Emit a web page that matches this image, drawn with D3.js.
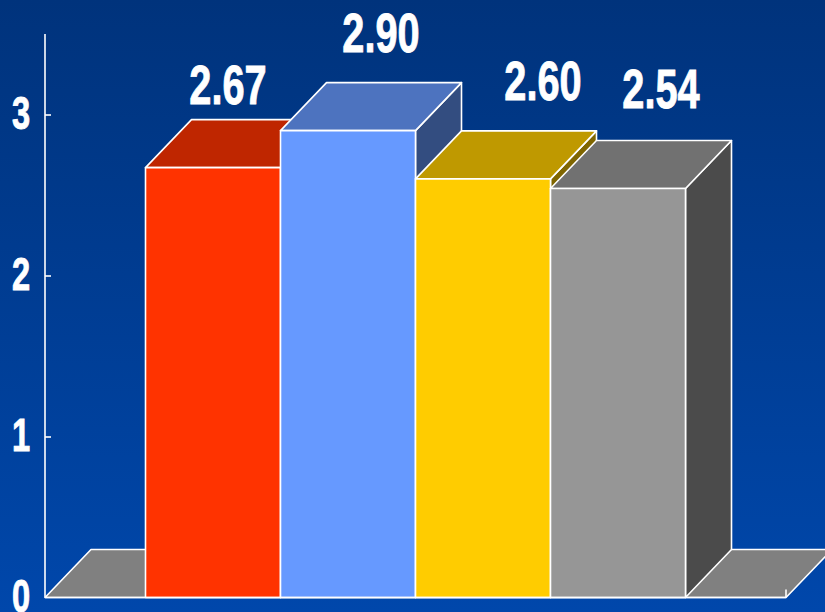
<!DOCTYPE html>
<html>
<head>
<meta charset="utf-8">
<script src="https://cdn.jsdelivr.net/npm/d3@7/dist/d3.min.js"></script>
<style>
  html, body { margin: 0; padding: 0; background: #003380; overflow: hidden; }
  svg { display: block; }
  text { font-family: "Liberation Sans", Arial, sans-serif; font-weight: bold; fill: #fff; stroke: #fff; stroke-width: 0.9; }
</style>
</head>
<body>
<svg id="chart" width="825" height="612"></svg>
<script>
const categories = ["Group 1", "Group 2", "Group 3", "Group 4"];
const values = [2.67, 2.90, 2.60, 2.54];
const valueLabels = ["2.67", "2.90", "2.60", "2.54"];
const barColors = ["#FF3300", "#6699FF", "#FFCC00", "#969696"];
const tickValues = [0, 1, 2, 3];

// Hand-placed value labels, relative to the centre of each bar's back edge
const labelShiftX = [-31, -13, 14, -3];
const labelShiftY = [-15.5, -30.5, -31, -33];

const width = 825, height = 612;
const depthX = 46, depthY = 48;
const axisX = 45, floorEndX = 786;
const narrow = 0.71;

const svg = d3.select("#chart");

const defs = svg.append("defs");
const grad = defs.append("linearGradient").attr("id", "bg")
  .attr("x1", 0).attr("y1", 0).attr("x2", 0).attr("y2", 1);
grad.append("stop").attr("offset", "0%").attr("stop-color", "#00337C");
grad.append("stop").attr("offset", "100%").attr("stop-color", "#0047AB");
svg.append("rect").attr("width", width).attr("height", height).attr("fill", "url(#bg)");

const y = d3.scaleLinear().domain([0, 3.5]).range([597.5, 34]);
const x = d3.scaleBand().domain(categories).range([145.5, 685.5]).padding(0);

const poly = (g, pts, fill) => g.append("polygon")
  .attr("points", pts.map(d => d.join(",")).join(" "))
  .attr("fill", fill)
  .attr("stroke", "#fff")
  .attr("stroke-width", 1.6)
  .attr("stroke-linejoin", "round");

const shade = (c, k) => {
  const r = d3.rgb(c);
  return d3.rgb(r.r * k, r.g * k, r.b * k).formatHex();
};

// Floor plane behind the bars
poly(svg.append("g"), [
  [axisX, y(0)],
  [axisX + depthX, y(0) - depthY],
  [floorEndX + depthX, y(0) - depthY],
  [floorEndX, y(0)]
], "#808080");

// Value axis
const axisG = svg.append("g")
  .attr("transform", `translate(${axisX},0)`)
  .call(d3.axisRight(y).tickValues(tickValues).tickSize(6).tickFormat(""));
axisG.selectAll("path, line").attr("stroke", "#fff").attr("stroke-width", 1.6);
axisG.select("path").attr("d", `M0,${y.range()[1]}V${y.range()[0]}`);
axisG.selectAll(".tick").filter(d => d === 0).select("line").remove();

svg.append("g").selectAll("text").data(tickValues).join("text")
  .attr("transform", d => `translate(21,${y(d) + 14}) scale(${narrow},1)`)
  .attr("text-anchor", "middle")
  .attr("font-size", 46)
  .text(d => d);

// Bars, painted left to right so each one covers its neighbour's side face
const bars = svg.append("g").selectAll("g").data(categories).join("g");
bars.each(function (c, i) {
  const g = d3.select(this);
  const x0 = x(c), x1 = x0 + x.bandwidth();
  const top = y(values[i]), base = y(0);
  poly(g, [[x1, top], [x1 + depthX, top - depthY], [x1 + depthX, base - depthY], [x1, base]], shade(barColors[i], 0.5));
  poly(g, [[x0, top], [x0 + depthX, top - depthY], [x1 + depthX, top - depthY], [x1, top]], shade(barColors[i], 0.75));
  poly(g, [[x0, top], [x1, top], [x1, base], [x0, base]], barColors[i]);
});

// Baseline and the closing tick at the floor's front corner
svg.append("line").attr("x1", axisX).attr("x2", floorEndX)
  .attr("y1", y(0)).attr("y2", y(0)).attr("stroke", "#fff").attr("stroke-width", 1.6);
svg.append("line").attr("x1", floorEndX).attr("x2", floorEndX)
  .attr("y1", y(0)).attr("y2", y(0) - 8).attr("stroke", "#fff").attr("stroke-width", 1.6);

// Value labels
svg.append("g").selectAll("text").data(categories).join("text")
  .attr("transform", (c, i) => {
    const lx = x(c) + x.bandwidth() / 2 + depthX + labelShiftX[i];
    const ly = y(values[i]) - depthY + labelShiftY[i];
    return `translate(${lx},${ly}) scale(${narrow},1)`;
  })
  .attr("text-anchor", "middle")
  .attr("font-size", 56)
  .text((c, i) => valueLabels[i]);
</script>
</body>
</html>
